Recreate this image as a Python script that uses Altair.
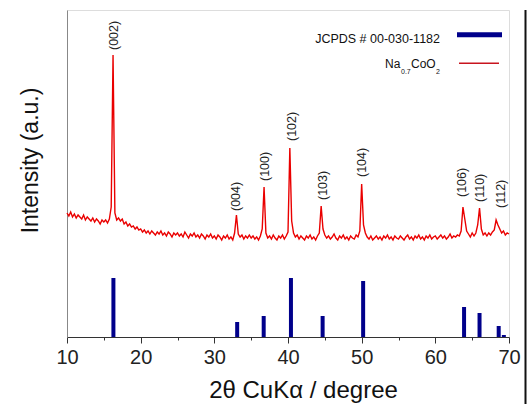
import altair as alt
import pandas as pd

FONT = "Liberation Sans"

# ---- Measured XRD pattern of Na0.7CoO2 (read every 0.25 deg, 10 -> 70 deg) ----
theta_start = 10.0
theta_step = 0.25
intensity = [
    124, 121, 125, 120, 123, 119, 122, 120, 118, 122, 117, 120, 118, 116, 119, 115, 118, 116, 113, 117,  # 10.00-14.75
    115, 117, 114, 118, 130, 282, 124, 117, 119, 116, 118, 113, 115, 111, 113, 110, 111, 108, 110, 107,  # 15.00-19.75
    108, 105, 107, 104, 106, 103, 106, 104, 102, 105, 103, 106, 102, 104, 101, 105, 103, 100, 104, 102,  # 20.00-24.75
    104, 101, 103, 100, 105, 102, 99, 103, 101, 104, 100, 102, 99, 103, 101, 98, 102, 100, 103, 99,      # 25.00-29.75
    101, 98, 102, 100, 97, 101, 99, 102, 98, 100, 97, 104, 122, 103, 100, 102, 98, 101, 99, 102,         # 30.00-34.75
    99, 101, 98, 100, 97, 101, 108, 150, 104, 99, 101, 98, 102, 99, 97, 101, 99, 102, 98, 101,           # 35.00-39.75
    105, 189, 116, 104, 100, 102, 98, 101, 99, 97, 101, 99, 102, 98, 100, 97, 101, 104, 131, 108,        # 40.00-44.75
    102, 99, 101, 98, 100, 103, 99, 97, 101, 99, 102, 98, 100, 97, 101, 99, 98, 102, 100, 106,           # 45.00-49.75
    153, 112, 104, 100, 98, 101, 97, 99, 101, 98, 100, 97, 101, 99, 102, 98, 100, 97, 101, 99,           # 50.00-54.75
    98, 101, 99, 97, 100, 102, 98, 100, 97, 101, 99, 102, 98, 100, 97, 101, 99, 102, 98, 100,            # 55.00-59.75
    101, 98, 100, 102, 99, 101, 98, 100, 103, 99, 101, 100, 102, 101, 106, 130, 118, 106, 103, 100,      # 60.00-64.75
    104, 101, 104, 112, 129, 108, 102, 104, 101, 104, 102, 105, 107, 117, 112, 108, 104, 106, 102, 104,  # 65.00-69.75
    103,                                                                                                 # 70.00
]
two_theta = [theta_start + theta_step * i for i in range(len(intensity))]

# ---- Reference pattern JCPDS # 00-030-1182 ----
ref_pos = [16.3, 33.1, 36.7, 40.4, 44.7, 50.2, 63.9, 66.0, 68.6, 69.3]
ref_int = [59, 15, 21, 59, 21, 56, 30, 24, 11, 2]

# ---- Peak labels ----
peak_labels = ["(002)", "(004)", "(100)", "(102)", "(103)", "(104)", "(106)", "(110)", "(112)"]
label_x = [16.38, 33.0, 36.87, 40.55, 44.7, 50.1, 63.66, 66.05, 68.86]
label_y = [287, 126, 156, 196, 137, 160, 140, 135, 129]

x_ticks = [10, 15, 20, 25, 30, 35, 40, 45, 50, 55, 60, 65, 70]

RED = "#ea0000"
NAVY = "#00008b"

line_df = pd.DataFrame({"x": two_theta, "y": intensity})
ref_df = pd.DataFrame({"x": ref_pos, "y": ref_int})
lab_df = pd.DataFrame({"x": label_x, "y": label_y, "t": peak_labels})

x_enc = alt.X(
    "x:Q",
    scale=alt.Scale(domain=[10, 70], nice=False, zero=False, padding=0),
    axis=alt.Axis(
        values=x_ticks,
        labelExpr="datum.value % 10 == 0 ? datum.label : ''",
        tickSize={"condition": {"test": "datum.value % 10 != 0", "value": 3}, "value": 6},
        labelFlush=False,
        labelOverlap=False,
        labelFontSize=20,
        labelFont=FONT,
        labelColor="#222",
        labelPadding=4,
        tickColor="#333",
        domainColor="#333",
        grid=False,
        title="2θ CuKα / degree",
        titleFont=FONT,
        titleFontSize=24,
        titleFontWeight="normal",
        titleColor="#111",
        titleBaseline="alphabetic",
        titleX=236,
        titleY=60,
    ),
)
y_enc = alt.Y(
    "y:Q",
    scale=alt.Scale(domain=[0, 327], nice=False, zero=False, padding=0),
    axis=alt.Axis(
        ticks=False,
        labels=False,
        grid=False,
        domainColor="#888",
        title="Intensity (a.u.)",
        titleFont=FONT,
        titleFontSize=23,
        titleFontWeight="normal",
        titleColor="#111",
        titleBaseline="alphabetic",
        titleX=-30,
        titleY=150,
    ),
)

line = alt.Chart(line_df).mark_line(color=RED, strokeWidth=1.4).encode(x=x_enc, y=y_enc)

bars = alt.Chart(ref_df).mark_bar(color=NAVY, size=4).encode(
    x=x_enc, y=y_enc, y2=alt.datum(0)
)

labels = alt.Chart(lab_df).mark_text(
    angle=270, align="left", baseline="middle", font=FONT, fontSize=12.5, color="#222"
).encode(x=x_enc, y=y_enc, text="t:N")

one = pd.DataFrame({"a": [0]})

leg_jcpds = alt.Chart(one).mark_text(
    align="right", baseline="alphabetic", font=FONT, fontSize=12.5, color="#111"
).encode(x=alt.value(373), y=alt.value(32.7), text=alt.value("JCPDS # 00-030-1182"))

leg_bar = alt.Chart(one).mark_rule(color=NAVY, strokeWidth=5).encode(
    x=alt.value(390), x2=alt.value(435), y=alt.value(24.7)
)

leg_na = alt.Chart(one).mark_text(
    align="left", baseline="alphabetic", font=FONT, fontSize=12, color="#111"
).encode(x=alt.value(318), y=alt.value(58.3), text=alt.value("Na"))

leg_sub1 = alt.Chart(one).mark_text(
    align="left", baseline="alphabetic", font=FONT, fontSize=7, color="#111"
).encode(x=alt.value(334), y=alt.value(64), text=alt.value("0.7"))

leg_coo = alt.Chart(one).mark_text(
    align="left", baseline="alphabetic", font=FONT, fontSize=12, color="#111"
).encode(x=alt.value(344), y=alt.value(58.3), text=alt.value("CoO"))

leg_sub2 = alt.Chart(one).mark_text(
    align="left", baseline="alphabetic", font=FONT, fontSize=7, color="#111"
).encode(x=alt.value(369), y=alt.value(64), text=alt.value("2"))

leg_line = alt.Chart(one).mark_rule(color="#c8141e", strokeWidth=1.5).encode(
    x=alt.value(392), x2=alt.value(432), y=alt.value(53.3)
)

edge = alt.Chart(one).mark_rule(color="#111", strokeWidth=2).encode(
    x=alt.value(458.5), y=alt.value(0), y2=alt.value(394)
)

chart = alt.layer(
    line, bars, labels, leg_jcpds, leg_bar, leg_na, leg_sub1, leg_coo, leg_sub2, leg_line, edge
).properties(
    width=442,
    height=327,
    autosize=alt.AutoSizeParams(type="none"),
    padding={"left": 67, "top": 10, "right": 18, "bottom": 67},
).configure_view(stroke="#888", strokeWidth=1).configure(background="white")

chart.save("out.html", embed_options={"renderer": "svg", "actions": False})
